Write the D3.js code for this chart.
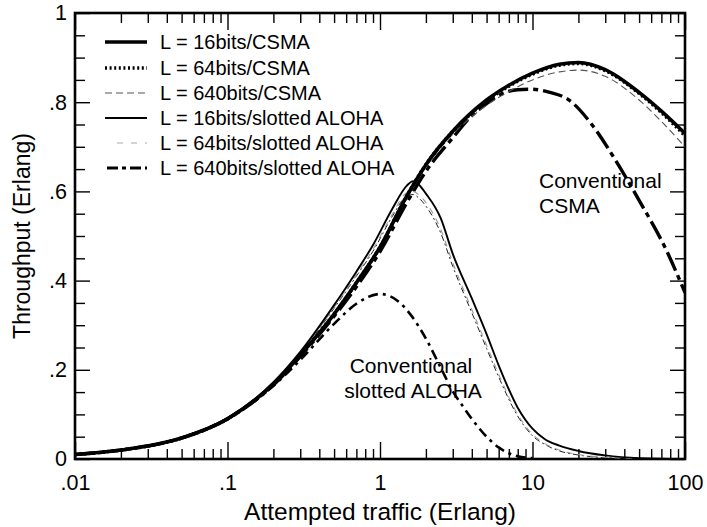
<!DOCTYPE html>
<html>
<head>
<meta charset="utf-8">
<script src="https://cdn.jsdelivr.net/npm/d3@7"></script>
<style>
  html, body { margin: 0; padding: 0; background: #fff; }
  svg { display: block; font-family: "Liberation Sans", Arial, Helvetica, sans-serif; }
</style>
</head>
<body>
<svg id="chart" width="707" height="527"></svg>
<script>
// ---------------- data ----------------
const xTickValues = [0.01, 0.1, 1, 10, 100];
const xTickLabels = [".01", ".1", "1", "10", "100"];
const yTickValues = [0, 0.2, 0.4, 0.6, 0.8, 1];
const yTickLabels = ["0", ".2", ".4", ".6", ".8", "1"];

const csmaG   = [0.01, 0.02, 0.05, 0.1, 0.2, 0.3, 0.5, 0.7, 1, 1.5, 2, 3, 5, 7, 10, 15, 20, 30, 50, 70, 100];
const csma16  = [0.01, 0.02, 0.047, 0.09, 0.168, 0.233, 0.325, 0.395, 0.475, 0.59, 0.66, 0.735, 0.805, 0.838, 0.865, 0.885, 0.889, 0.873, 0.822, 0.78, 0.73];
const csma64  = [0.01, 0.02, 0.047, 0.09, 0.168, 0.233, 0.325, 0.395, 0.475, 0.59, 0.66, 0.734, 0.803, 0.836, 0.863, 0.883, 0.887, 0.871, 0.82, 0.777, 0.725];
const csma640 = [0.01, 0.02, 0.047, 0.09, 0.167, 0.232, 0.323, 0.392, 0.472, 0.585, 0.655, 0.728, 0.793, 0.824, 0.85, 0.868, 0.872, 0.858, 0.805, 0.757, 0.70];

const alohaG   = [0.01, 0.02, 0.05, 0.1, 0.2, 0.3, 0.5, 0.7, 0.9, 1.2, 1.5, 1.65, 1.8, 2, 2.5, 3, 4, 5, 6, 8, 10, 12, 15, 20, 30, 50, 100];
const aloha16  = [0.01, 0.02, 0.048, 0.092, 0.172, 0.24, 0.345, 0.42, 0.48, 0.56, 0.613, 0.623, 0.615, 0.595, 0.54, 0.46, 0.36, 0.28, 0.21, 0.115, 0.068, 0.045, 0.03, 0.018, 0.008, 0.002, 0];
const aloha64  = [0.01, 0.02, 0.048, 0.091, 0.17, 0.237, 0.34, 0.413, 0.47, 0.548, 0.597, 0.6, 0.592, 0.575, 0.515, 0.44, 0.335, 0.255, 0.19, 0.1, 0.055, 0.035, 0.02, 0.01, 0.004, 0.001, 0];
const aloha640 = [0.01, 0.02, 0.048, 0.091, 0.17, 0.236, 0.338, 0.41, 0.466, 0.543, 0.59, 0.593, 0.585, 0.567, 0.507, 0.432, 0.328, 0.248, 0.184, 0.096, 0.052, 0.033, 0.018, 0.009, 0.003, 0.001, 0];

const convAlohaG = [0.01, 0.02, 0.05, 0.1, 0.2, 0.3, 0.5, 0.7, 1, 1.3, 1.6, 2, 2.5, 3, 3.5, 4, 5, 6, 7, 8, 10];
const convAloha  = [0.01, 0.02, 0.048, 0.09, 0.164, 0.222, 0.303, 0.348, 0.37, 0.355, 0.322, 0.27, 0.205, 0.152, 0.118, 0.09, 0.05, 0.026, 0.013, 0.006, 0.002];

const convCsmaG = [0.01, 0.02, 0.05, 0.1, 0.2, 0.3, 0.5, 0.7, 1, 1.5, 2, 3, 4, 5, 6, 8, 10, 13, 17, 25, 35, 50, 75, 100];
const convCsma  = [0.01, 0.02, 0.047, 0.09, 0.166, 0.23, 0.32, 0.386, 0.465, 0.575, 0.645, 0.72, 0.77, 0.797, 0.815, 0.828, 0.829, 0.822, 0.807, 0.746, 0.67, 0.58, 0.47, 0.373];

const legendLabels = [
  "L = 16bits/CSMA",
  "L = 64bits/CSMA",
  "L = 640bits/CSMA",
  "L = 16bits/slotted ALOHA",
  "L = 64bits/slotted ALOHA",
  "L = 640bits/slotted ALOHA"
];

// ---------------- layout / styles ----------------
const svg = d3.select("#chart");
const mLeft = 75, mRight = 685, mTop = 13, mBottom = 459;

const x = d3.scaleLog().domain([0.01, 100]).range([mLeft, mRight]);
const y = d3.scaleLinear().domain([0, 1]).range([mBottom, mTop]);

const styles = [
  { width: 3.6, dash: null, color: "#000", legendStart: 105 },
  { width: 3.6, dash: "2,2.6", color: "#000", legendStart: 105 },
  { width: 1.1, dash: "7,4", color: "#555", legendStart: 105 },
  { width: 1.9, dash: null, color: "#000", legendStart: 105 },
  { width: 1.1, dash: "6,8", color: "#aaa", legendStart: 117 },
  { width: 3.2, dash: "11,4,4,4", color: "#000", legendStart: 107 }
];
const curveStyles = [
  { width: 3.6, dash: null, color: "#000" },
  { width: 3.6, dash: "2,2.6", color: "#000" },
  { width: 1.1, dash: "7,4", color: "#555" },
  { width: 1.9, dash: null, color: "#000" },
  { width: 1.1, dash: "6,6", color: "#999" },
  { width: 1.0, dash: "6,3,2,3", color: "#222" }
];

// ---------------- axes (ticks inside the frame) ----------------
const minorX = [];
for (let e = -2; e < 2; e++) for (let m = 2; m <= 9; m++) minorX.push(m * Math.pow(10, e));
const minorY = d3.range(0, 21).map(i => i * 0.05).filter(v => Math.abs((v * 5) - Math.round(v * 5)) > 1e-6);

const fs = 21.5;

function styleAxis(g) {
  g.attr("font-family", null);
  g.select(".domain").remove();
  g.selectAll(".tick line").attr("stroke", "#000").attr("stroke-width", 1.4);
  g.selectAll(".tick text").attr("fill", "#000").style("font-size", fs + "px");
}

// bottom
svg.append("g").attr("transform", `translate(0,${mBottom})`)
  .call(d3.axisBottom(x).tickValues(xTickValues).tickSize(-17).tickPadding(16)
    .tickFormat((d, i) => xTickLabels[i]))
  .call(styleAxis);
svg.append("g").attr("transform", `translate(0,${mBottom})`)
  .call(d3.axisBottom(x).tickValues(minorX).tickSize(-10).tickFormat(""))
  .call(styleAxis);
// top
svg.append("g").attr("transform", `translate(0,${mTop})`)
  .call(d3.axisTop(x).tickValues(xTickValues).tickSize(-17).tickFormat(""))
  .call(styleAxis);
svg.append("g").attr("transform", `translate(0,${mTop})`)
  .call(d3.axisTop(x).tickValues(minorX).tickSize(-10).tickFormat(""))
  .call(styleAxis);
// left
svg.append("g").attr("transform", `translate(${mLeft},0)`)
  .call(d3.axisLeft(y).tickValues(yTickValues).tickSize(-15).tickPadding(8)
    .tickFormat((d, i) => yTickLabels[i]))
  .call(styleAxis);
svg.append("g").attr("transform", `translate(${mLeft},0)`)
  .call(d3.axisLeft(y).tickValues(minorY).tickSize(-10).tickFormat(""))
  .call(styleAxis);
// right
svg.append("g").attr("transform", `translate(${mRight},0)`)
  .call(d3.axisRight(y).tickValues(yTickValues).tickSize(-15).tickFormat(""))
  .call(styleAxis);
svg.append("g").attr("transform", `translate(${mRight},0)`)
  .call(d3.axisRight(y).tickValues(minorY).tickSize(-10).tickFormat(""))
  .call(styleAxis);

// frame
svg.append("rect")
  .attr("x", mLeft).attr("y", mTop)
  .attr("width", mRight - mLeft).attr("height", mBottom - mTop)
  .attr("fill", "none").attr("stroke", "#000").attr("stroke-width", 2.6);

// ---------------- curves ----------------
const line = d3.line().x(d => x(d[0])).y(d => y(d[1])).curve(d3.curveMonotoneX);
const zip = (gs, ss) => gs.map((g, i) => [g, ss[i]]);

svg.append("clipPath").attr("id", "plotclip")
  .append("rect").attr("x", mLeft).attr("y", mTop).attr("width", mRight - mLeft).attr("height", mBottom - mTop);

const plot = svg.append("g").attr("clip-path", "url(#plotclip)");

function drawCurve(data, st) {
  plot.append("path")
    .attr("d", line(data))
    .attr("fill", "none")
    .attr("stroke", st.color)
    .attr("stroke-width", st.width)
    .attr("stroke-dasharray", st.dash)
    .attr("stroke-linejoin", "round");
}

// conventional curves
drawCurve(zip(convAlohaG, convAloha), { width: 2.6, dash: "10,5,3,5", color: "#000" });
drawCurve(zip(convCsmaG, convCsma), { width: 3.4, dash: "20,5,5,5", color: "#000" });

drawCurve(zip(alohaG, aloha640), curveStyles[5]);
drawCurve(zip(alohaG, aloha64), curveStyles[4]);
drawCurve(zip(alohaG, aloha16), curveStyles[3]);
drawCurve(zip(csmaG, csma640), curveStyles[2]);
drawCurve(zip(csmaG, csma16), curveStyles[0]);
drawCurve(zip(csmaG, csma64), curveStyles[1]);

// ---------------- legend ----------------
const legendBase = [49, 75, 100, 125, 150, 175];
const lg = svg.append("g");
legendLabels.forEach((lab, i) => {
  const st = styles[i];
  lg.append("line")
    .attr("x1", st.legendStart).attr("x2", 147)
    .attr("y1", legendBase[i] - 7).attr("y2", legendBase[i] - 7)
    .attr("stroke", st.color).attr("stroke-width", st.width)
    .attr("stroke-dasharray", st.dash);
  lg.append("text")
    .attr("x", 160).attr("y", legendBase[i])
    .style("font-size", "20px").attr("fill", "#000")
    .text(lab);
});

// ---------------- annotations ----------------
const ann = svg.append("g").style("font-size", "21px").attr("fill", "#000");
ann.append("text").attr("x", 539).attr("y", 188).text("Conventional");
ann.append("text").attr("x", 539).attr("y", 213).text("CSMA");
ann.append("text").attr("x", 411).attr("y", 373).attr("text-anchor", "middle").text("Conventional");
ann.append("text").attr("x", 413).attr("y", 398).attr("text-anchor", "middle").text("slotted ALOHA");

// ---------------- axis titles ----------------
svg.append("text")
  .attr("x", (mLeft + mRight) / 2).attr("y", 519.5)
  .attr("text-anchor", "middle").style("font-size", "24.5px")
  .text("Attempted traffic (Erlang)");
svg.append("text")
  .attr("transform", `translate(30,${(mTop + mBottom) / 2}) rotate(-90)`)
  .attr("text-anchor", "middle").style("font-size", "23px")
  .text("Throughput (Erlang)");
</script>
</body>
</html>
